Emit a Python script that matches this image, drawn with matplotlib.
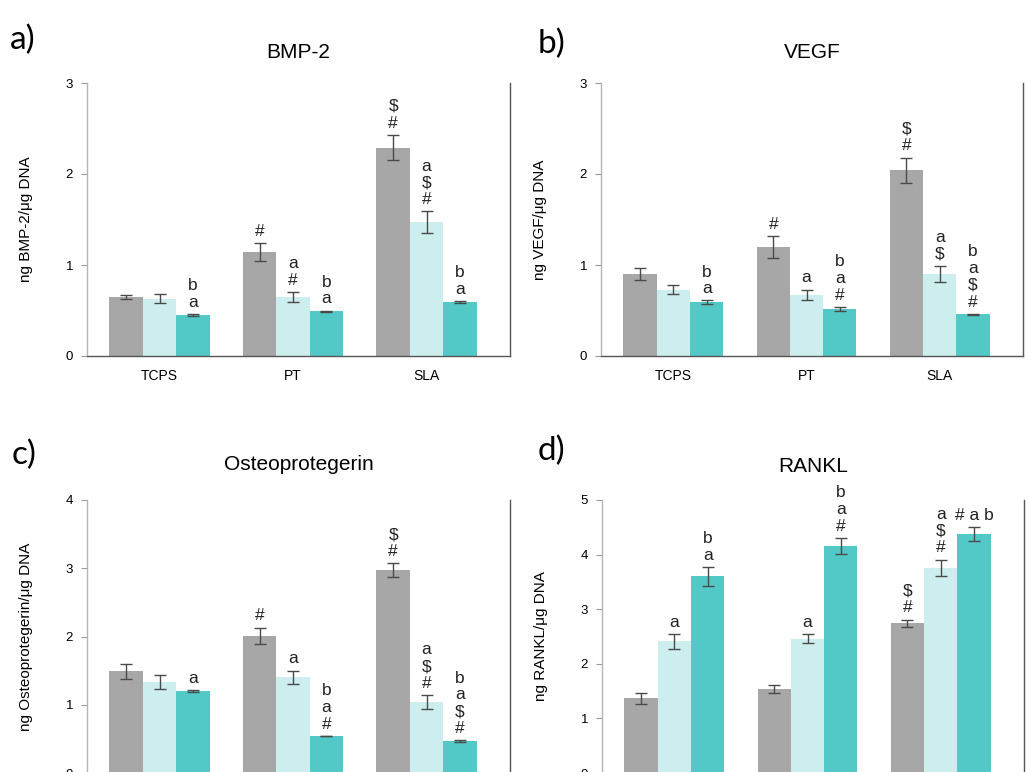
import matplotlib
matplotlib.use("Agg")
import matplotlib.pyplot as plt
import numpy as np

plt.rcParams['font.family'] = ['Liberation Sans', 'DejaVu Sans']

categories = ["TCPS", "PT", "SLA"]
colors = ["#a7a7a7", "#cdeeee", "#52c9c6"]

# values per panel: rows = series (gray, light, teal), cols = categories
bmp2_vals = [[0.65, 1.14, 2.29], [0.63, 0.65, 1.47], [0.45, 0.49, 0.59]]
bmp2_errs = [[0.02, 0.10, 0.14], [0.05, 0.055, 0.12], [0.01, 0.01, 0.01]]
bmp2_ann = [["", "#", "$\n#"], ["", "a\n#", "a\n$\n#"], ["b\na", "b\na", "b\na"]]

vegf_vals = [[0.90, 1.20, 2.04], [0.73, 0.67, 0.90], [0.59, 0.52, 0.46]]
vegf_errs = [[0.065, 0.12, 0.14], [0.05, 0.06, 0.09], [0.02, 0.02, 0.005]]
vegf_ann = [["", "#", "$\n#"], ["", "a", "a\n$"], ["b\na", "b\na\n#", "b\na\n$\n#"]]

opg_vals = [[1.49, 2.01, 2.97], [1.33, 1.40, 1.04], [1.20, 0.54, 0.47]]
opg_errs = [[0.11, 0.12, 0.10], [0.10, 0.10, 0.10], [0.02, 0.0, 0.01]]
opg_ann = [["", "#", "$\n#"], ["", "a", "a\n$\n#"], ["a", "b\na\n#", "b\na\n$\n#"]]

rankl_vals = [[1.37, 1.54, 2.74], [2.41, 2.46, 3.76], [3.60, 4.16, 4.37]]
rankl_errs = [[0.10, 0.08, 0.07], [0.13, 0.08, 0.15], [0.17, 0.15, 0.13]]
rankl_ann = [["", "", "$\n#"], ["a", "a", "a\n$\n#"], ["b\na", "b\na\n#", "# a b"]]

panels = [
    ("a)", "BMP-2", "ng BMP-2/\u03bcg DNA", bmp2_vals, bmp2_errs, bmp2_ann, 3, True),
    ("b)", "VEGF", "ng VEGF/\u03bcg DNA", vegf_vals, vegf_errs, vegf_ann, 3, True),
    ("c)", "Osteoprotegerin", "ng Osteoprotegerin/\u03bcg DNA", opg_vals, opg_errs, opg_ann, 4, False),
    ("d)", "RANKL", "ng RANKL/\u03bcg DNA", rankl_vals, rankl_errs, rankl_ann, 5, False),
]

W, H = 1028, 772
fig = plt.figure(figsize=(W / 100, H / 100), dpi=100)

# pixel boxes (left, top, right, bottom)
boxes = [(87, 83, 510, 356), (601, 83, 1023, 356),
         (87, 500, 510, 773), (602, 500, 1024, 773)]
label_pos = [(10, 40), (538, 44), (12, 455), (538, 451)]
title_y = [52, 52, 465, 467]

bw = 0.25
x = np.arange(len(categories))

for i, (plabel, title, ylabel, vals, errs, anns, ymax, show_x) in enumerate(panels):
    l, t, r, b = boxes[i]
    ax = fig.add_axes([l / W, 1 - b / H, (r - l) / W, (b - t) / H])
    for s in range(3):
        xs = x + (s - 1) * bw
        ax.bar(xs, vals[s], width=bw, color=colors[s], edgecolor='none', zorder=2)
        ax.errorbar(xs, vals[s], yerr=errs[s], fmt='none', ecolor='#4a4a4a',
                    elinewidth=1.0, capsize=4.5, capthick=1.0, zorder=3)
        for j in range(3):
            if anns[s][j]:
                ax.annotate(anns[s][j], (xs[j], vals[s][j] + errs[s][j]),
                            xytext=(0, 3), textcoords='offset points',
                            ha='center', va='bottom', fontsize=12.5,
                            linespacing=1.15, color='#222222', zorder=4)
    ax.set_xlim(-0.543, 2.625)
    ax.set_ylim(0, ymax)
    ax.set_yticks(range(ymax + 1))
    ax.set_xticks(x)
    ax.set_xticklabels(categories if show_x else [], fontsize=10)
    ax.tick_params(axis='x', length=0, pad=9)
    ax.tick_params(axis='y', length=4, width=0.8, color='#999999', labelsize=9.5,
                   pad=6, direction='out')
    ax.spines['top'].set_visible(False)
    ax.spines['left'].set_color('#b5b5b5')
    ax.spines['right'].set_color('#555555')
    ax.spines['bottom'].set_color('#555555')
    for sp in ax.spines.values():
        sp.set_linewidth(1.0)
    ax.set_ylabel(ylabel, fontsize=11)
    ax.yaxis.set_label_coords(-54 / (r - l), 0.5)
    ax.text(0.5, 1 + (t - title_y[i]) / (b - t), title, transform=ax.transAxes,
            ha='center', va='center', fontsize=15)
    fig.text(label_pos[i][0] / W, 1 - label_pos[i][1] / H, plabel,
             fontsize=24, family=['Lato', 'DejaVu Sans'], ha='left', va='center')

fig.savefig("out.png", dpi=100)
